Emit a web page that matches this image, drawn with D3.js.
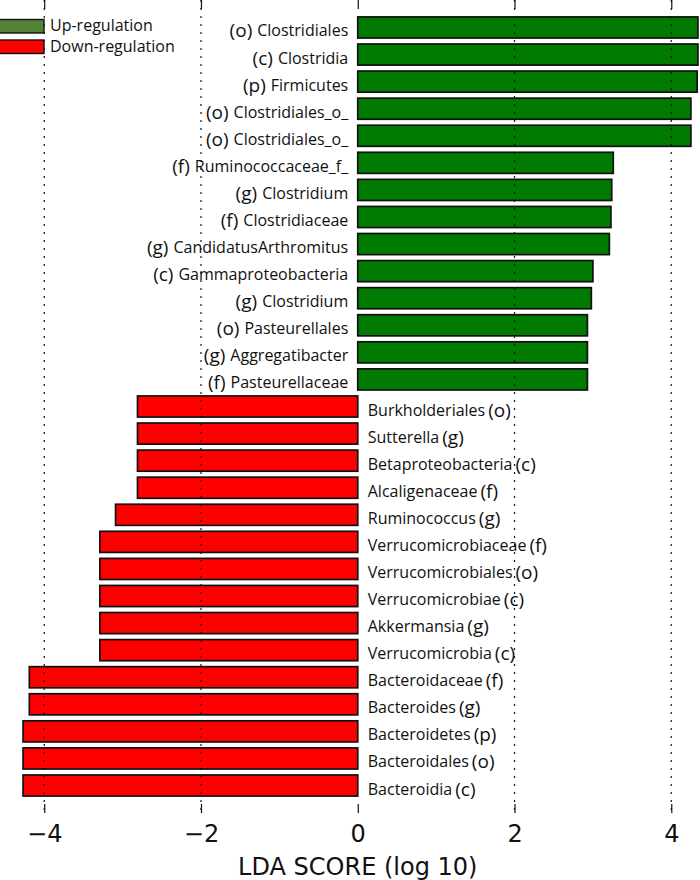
<!DOCTYPE html>
<html>
<head>
<meta charset="utf-8">
<script src="https://cdn.jsdelivr.net/npm/d3@7/dist/d3.min.js"></script>
<style>
  html, body { margin: 0; padding: 0; background: #fff; }
  svg { display: block; }
</style>
</head>
<body>
<svg id="chart"></svg>
<script>
'use strict';

// taxa, top to bottom
const taxa = [
    'Clostridiales', 'Clostridia', 'Firmicutes', 'Clostridiales_o_', 'Clostridiales_o_',
    'Ruminococcaceae_f_', 'Clostridium', 'Clostridiaceae', 'CandidatusArthromitus',
    'Gammaproteobacteria', 'Clostridium', 'Pasteurellales', 'Aggregatibacter', 'Pasteurellaceae',
    'Burkholderiales', 'Sutterella', 'Betaproteobacteria', 'Alcaligenaceae', 'Ruminococcus',
    'Verrucomicrobiaceae', 'Verrucomicrobiales', 'Verrucomicrobiae', 'Akkermansia',
    'Verrucomicrobia', 'Bacteroidaceae', 'Bacteroides', 'Bacteroidetes', 'Bacteroidales',
    'Bacteroidia'
];
const ranks = [
    '(o)', '(c)', '(p)', '(o)', '(o)', '(f)', '(g)', '(f)', '(g)', '(c)', '(g)', '(o)', '(g)', '(f)',
    '(o)', '(g)', '(c)', '(f)', '(g)', '(f)', '(o)', '(c)', '(g)', '(c)', '(f)', '(g)', '(p)', '(o)', '(c)'
];
const ldaScores = [
    4.34, 4.34, 4.33, 4.25, 4.25, 3.26, 3.24, 3.23, 3.21, 3.00, 2.98, 2.93, 2.93, 2.93,
    -2.81, -2.81, -2.81, -2.81, -3.09, -3.29, -3.29, -3.29, -3.29, -3.29,
    -4.19, -4.19, -4.27, -4.27, -4.27
];
const xTicks = [-4, -2, 0, 2, 4];
const legendLabels = ['Up-regulation', 'Down-regulation'];

const W = 700, H = 880;
const plotTop = 0, plotBottom = 813;

const svg = d3.select('#chart').attr('width', W).attr('height', H);

const x = d3.scaleLinear()
    .domain([-4.36, 4.36])
    .range([16, 699.5]);

const y = d3.scaleBand()
    .domain(d3.range(taxa.length))
    .range([plotTop, plotBottom])
    .paddingInner(0.22)
    .paddingOuter(0.625);

const rows = taxa.map(function(name, i) {
    return { name: name, rank: ranks[i], score: ldaScores[i] };
});

//
// Bars
//
svg.append('g').selectAll('rect')
    .data(rows)
    .join('rect')
    .attr('x', function(d) { return Math.min(x(0), x(d.score)); })
    .attr('y', function(d, i) { return y(i); })
    .attr('width', function(d) { return Math.abs(x(d.score) - x(0)); })
    .attr('height', y.bandwidth())
    .attr('fill', function(d) { return d.score > 0 ? '#007a00' : '#ff0000'; })
    .attr('stroke', '#111')
    .attr('stroke-width', 1.7);

//
// Grid lines (drawn over the bars, as in the original)
//
svg.append('g').selectAll('line')
    .data(xTicks.filter(function(t) { return t !== 0; }))
    .join('line')
    .attr('x1', function(d) { return x(d); })
    .attr('x2', function(d) { return x(d); })
    .attr('y1', plotTop)
    .attr('y2', plotBottom)
    .attr('stroke', '#111')
    .attr('stroke-width', 1.2)
    .attr('stroke-dasharray', '2,6');

//
// Axes: inward ticks top and bottom, no spines
//
const xAxisBottom = d3.axisBottom(x)
    .tickValues(xTicks)
    .tickSizeInner(-9)
    .tickSizeOuter(0)
    .tickPadding(12);
const gb = svg.append('g')
    .attr('transform', 'translate(0,' + plotBottom + ')')
    .call(xAxisBottom);
gb.select('.domain').remove();
gb.selectAll('.tick line').attr('stroke', '#111').attr('stroke-width', 1.2);
gb.selectAll('.tick text')
    .attr('font-family', 'DejaVu Sans')
    .attr('font-size', 24)
    .attr('fill', '#111');

const xAxisTop = d3.axisTop(x)
    .tickValues(xTicks)
    .tickSizeInner(-9)
    .tickSizeOuter(0)
    .tickFormat('');
const gt = svg.append('g')
    .attr('transform', 'translate(0,' + plotTop + ')')
    .call(xAxisTop);
gt.select('.domain').remove();
gt.selectAll('.tick line').attr('stroke', '#111').attr('stroke-width', 1.2);

svg.append('text')
    .attr('x', x(0))
    .attr('y', 875)
    .attr('text-anchor', 'middle')
    .attr('font-family', 'DejaVu Sans')
    .attr('font-size', 24)
    .attr('fill', '#111')
    .text('LDA SCORE (log 10)');

//
// Labels: taxon name next to the zero line, rank prefix beside it
//
const labels = svg.append('g')
    .attr('font-family', 'Open Sans')
    .attr('fill', '#111');

rows.forEach(function(d, i) {
    const base = y(i) + y.bandwidth() / 2 + 9;
    const up = d.score > 0;
    const name = labels.append('text')
        .attr('x', up ? x(0) - 9.5 : x(0) + 10)
        .attr('y', base)
        .attr('font-size', 16)
        .attr('text-anchor', up ? 'end' : 'start')
        .text(d.name);
    const len = name.node().getComputedTextLength();
    labels.append('text')
        .attr('x', up ? x(0) - 9.5 - len - 5 : x(0) + 10 + len + 3)
        .attr('y', base + 1)
        .attr('font-size', 19)
        .attr('text-anchor', up ? 'end' : 'start')
        .text(d.rank);
});

//
// Legend
//
const legend = svg.append('g');
const legendColors = ['#538135', '#ff0000'];
legendLabels.forEach(function(label, i) {
    legend.append('rect')
        .attr('x', -1)
        .attr('y', 19.5 + i * 20.5)
        .attr('width', 45)
        .attr('height', 13.5)
        .attr('fill', legendColors[i])
        .attr('stroke', '#111')
        .attr('stroke-width', 1.4);
    legend.append('text')
        .attr('x', 50)
        .attr('y', 31 + i * 21)
        .attr('font-family', 'Open Sans')
        .attr('font-size', 16)
        .attr('fill', '#111')
        .text(label);
});
</script>
</body>
</html>
